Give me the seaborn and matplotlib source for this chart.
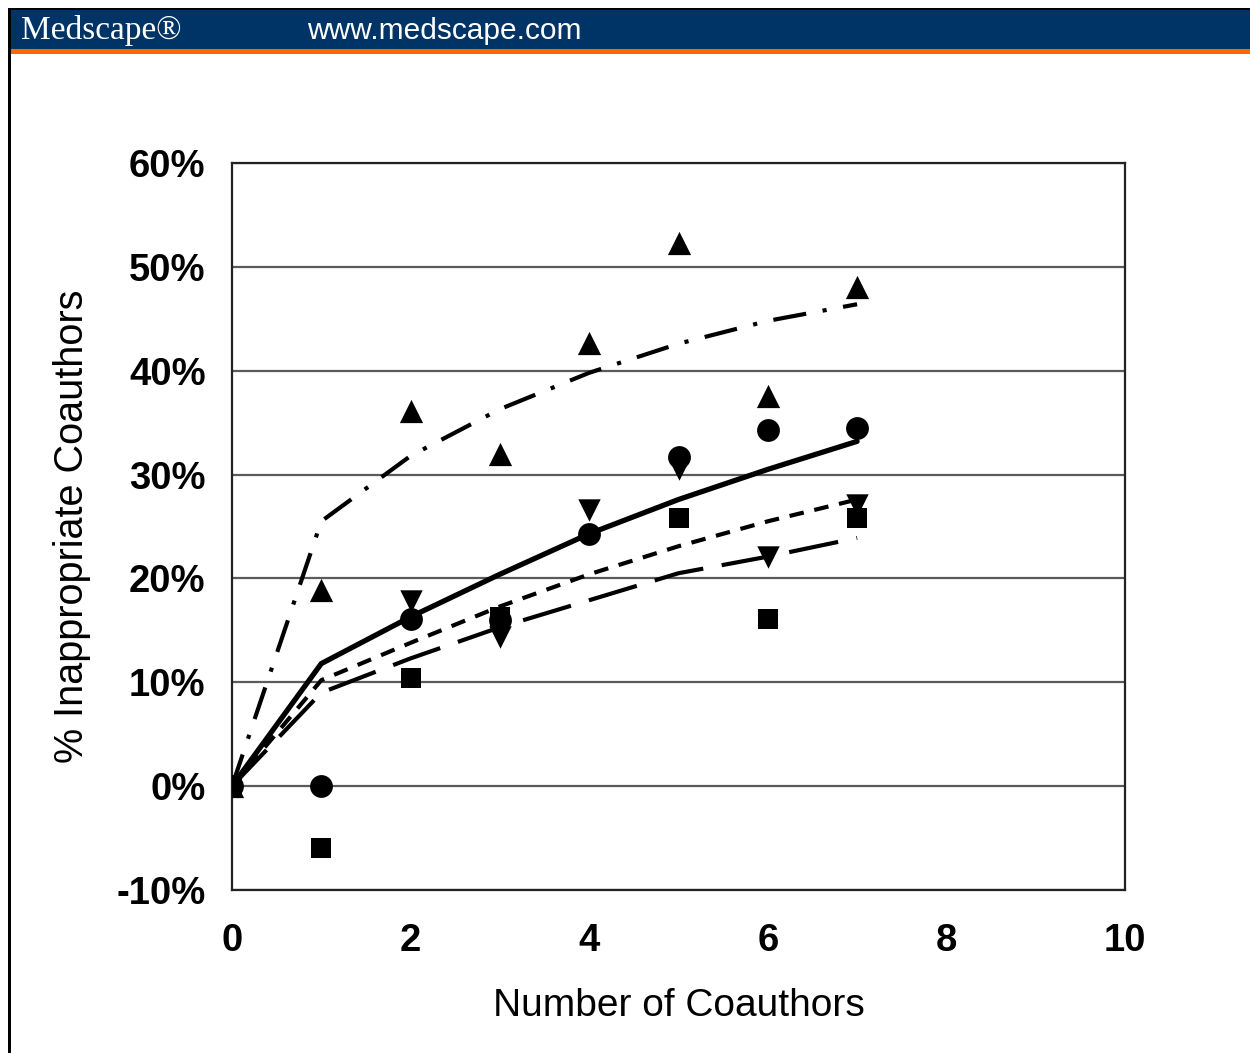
import matplotlib
matplotlib.use("Agg")
import matplotlib.pyplot as plt
from matplotlib.patches import Rectangle
from matplotlib.ticker import FuncFormatter
import numpy as np
import pandas as pd
import seaborn as sns

# ---- data (percent values) ----
x_points = [0, 1, 2, 3, 4, 5, 6, 7]
tri_up = [0, 18.9, 36.1, 32.0, 42.7, 52.3, 37.6, 48.1]
circles = [0, 0, 16.1, 16.0, 24.3, 31.7, 34.3, 34.5]
tri_down = [0, np.nan, 17.8, 14.4, 26.6, 30.5, 22.1, 27.1]
squares = [0, -6.0, 10.4, 16.3, np.nan, 25.8, 16.1, 25.8]

trend_x = [0, 1, 2, 3, 4, 5, 6, 7]
trend_tri_up = [0, 25.5, 31.8, 36.3, 39.8, 42.6, 44.8, 46.4]
trend_circles = [0, 11.8, 16.3, 20.4, 24.3, 27.6, 30.5, 33.2]
trend_tri_down = [0, 10.2, 13.8, 17.3, 20.4, 23.1, 25.5, 27.6]
trend_squares = [0, 9.0, 12.3, 15.3, 17.9, 20.5, 22.1, 23.9]

x_ticks = [0, 2, 4, 6, 8, 10]
y_ticks = [-10, 0, 10, 20, 30, 40, 50, 60]
x_label = "Number of Coauthors"
y_label = "% Inappropriate Coauthors"
header_left = "Medscape®"
header_right = "www.medscape.com"

sns.set_theme(style="white")
plt.rcParams["font.family"] = ["Liberation Sans", "DejaVu Sans"]

W, H = 1250, 1053
fig = plt.figure(figsize=(W / 100, H / 100), dpi=100)
fig.patch.set_facecolor("white")


def fx(px):
    return px / W


def fy(py):
    return 1 - py / H


# header bar and border
fig.patches.append(Rectangle((fx(8), fy(10)), 1, 2 / H, transform=fig.transFigure,
                             facecolor="black", edgecolor="none", zorder=0))
fig.patches.append(Rectangle((fx(8), fy(49)), 1, 39 / H, transform=fig.transFigure,
                             facecolor="#003366", edgecolor="none", zorder=0))
fig.patches.append(Rectangle((fx(8), fy(54)), 1, 5 / H, transform=fig.transFigure,
                             facecolor="#FF6600", edgecolor="none", zorder=0))
fig.patches.append(Rectangle((fx(8), 0), 2.5 / W, fy(8), transform=fig.transFigure,
                             facecolor="black", edgecolor="none", zorder=1))

fig.text(fx(21), fy(31), header_left, color="white", fontsize=24,
         family=["Liberation Serif", "DejaVu Serif"], va="center", ha="left")
fig.text(fx(307), fy(31), header_right, color="white", fontsize=21.5,
         va="center", ha="left")

ax = fig.add_axes([232 / W, (H - 890) / H, (1125 - 232) / W, (890 - 163) / H])

# trend lines
line_specs = [
    (trend_tri_up, (0, (8, 4, 1, 4)), 3.0),
    (trend_circles, "-", 3.8),
    (trend_tri_down, (0, (3.5, 2.6)), 3.0),
    (trend_squares, (0, (12, 4.5)), 3.0),
]
for vals, ls, lw in line_specs:
    sns.lineplot(x=trend_x, y=vals, ax=ax, color="black", linewidth=lw,
                 linestyle=ls, zorder=3)

# markers
marker_specs = [
    (tri_up, "^", 280),
    (tri_down, "v", 260),
    (circles, "o", 270),
    (squares, "s", 190),
]
for vals, mk, s in marker_specs:
    df = pd.DataFrame({"x": x_points, "y": vals}).dropna()
    sns.scatterplot(data=df, x="x", y="y", ax=ax, marker=mk, s=s, color="black",
                    edgecolor="black", linewidth=0, zorder=4)

ax.set_xlim(0, 10)
ax.set_ylim(-10, 60)
ax.set_xticks(x_ticks)
ax.set_yticks(y_ticks)
ax.yaxis.set_major_formatter(FuncFormatter(lambda v, p: f"{v:.0f}%"))
ax.grid(axis="y", color="#5a5a5a", linewidth=1.6)
ax.grid(axis="x", visible=False)
ax.set_axisbelow(True)
for sp in ax.spines.values():
    sp.set_color("#222222")
    sp.set_linewidth(1.6)
ax.tick_params(axis="both", length=0, labelsize=27.5, colors="black")
ax.tick_params(axis="y", pad=19)
ax.tick_params(axis="x", pad=24)
for lab in ax.get_xticklabels() + ax.get_yticklabels():
    lab.set_fontweight("bold")

ax.set_xlabel(x_label, fontsize=28, color="black", labelpad=21)
ax.set_ylabel(y_label, fontsize=28.5, color="black", labelpad=18)

fig.savefig("out.png", dpi=100, facecolor="white")
